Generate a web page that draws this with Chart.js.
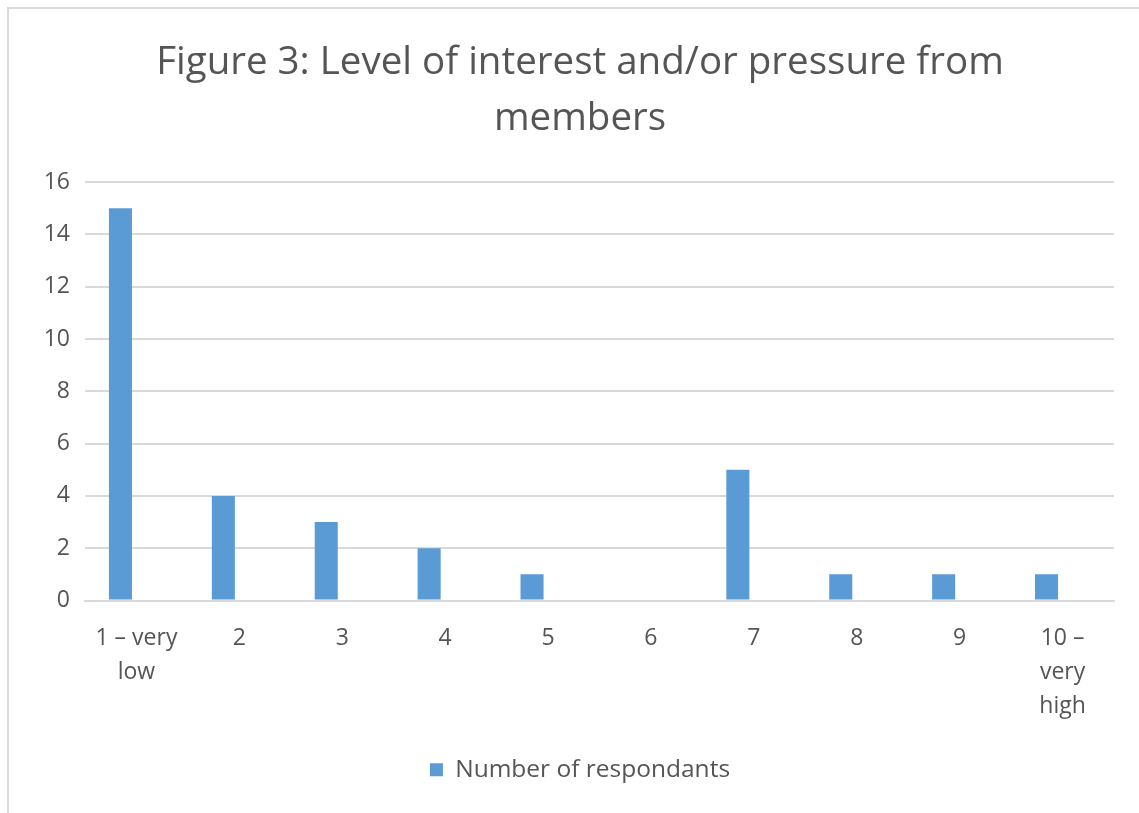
<!DOCTYPE html>
<html>
<head>
<meta charset="utf-8">
<script src="https://cdn.jsdelivr.net/npm/chart.js@4/dist/chart.umd.min.js"></script>
<style>
  body { margin: 0; background: #ffffff; }
  #wrap { position: relative; width: 1139px; height: 813px; overflow: hidden; }
  #frame { position: absolute; left: 7px; top: 7px; width: 1200px; height: 900px;
    border-left: 2px solid #d9d9d9; border-top: 2px solid #d9d9d9; }
  #chart { position: absolute; left: 0; top: 0; }
</style>
</head>
<body>
<div id="wrap">
  <div id="frame"></div>
  <canvas id="chart" width="1139" height="813"></canvas>
</div>
<script>
// categories (multi-line labels) and values
const categories = [["1 – very", "low"], "2", "3", "4", "5", "6", "7", "8", "9", ["10 –", "very", "high"]];
const respondents = [15, 4, 3, 2, 1, 0, 5, 1, 1, 1];
// Excel left an empty second series, that's why bars sit left of the label
const emptySeries = [null, null, null, null, null, null, null, null, null, null];
const yTicks = [0, 2, 4, 6, 8, 10, 12, 14, 16];

const textColor = "#555555";
const fontFamily = "'Open Sans', Lato, sans-serif";

var ctx = document.getElementById("chart").getContext("2d");
var myChart = new Chart(ctx, {
  type: "bar",
  data: {
    labels: categories,
    datasets: [
      {
        label: "Number of respondants",
        data: respondents,
        backgroundColor: "#5B9BD5",
        borderWidth: 0,
        categoryPercentage: 0.622,
        barPercentage: 0.72,
      },
      {
        label: "",
        data: emptySeries,
        backgroundColor: "#ED7D31",
        categoryPercentage: 0.622,
        barPercentage: 0.72,
      },
    ],
  },
  options: {
    responsive: false,
    animation: false,
    // left padding pushes title/legend centre to ~580 like the original
    layout: { padding: { left: 46, right: 25, top: 0, bottom: 21 } },
    plugins: {
      tooltip: { enabled: false },
      title: {
        display: true,
        text: ["Figure 3: Level of interest and/or pressure from", "members"],
        color: textColor,
        font: { family: fontFamily, size: 38.5, weight: "normal", lineHeight: 1.43 },
        padding: { top: 36, bottom: 36 },
      },
      legend: {
        position: "bottom",
        labels: {
          color: textColor,
          font: { family: fontFamily, size: 24.5 },
          boxWidth: 13,
          boxHeight: 13,
          padding: 10,
          filter: (item) => item.datasetIndex === 0,
        },
      },
    },
    scales: {
      x: {
        grid: { display: false, drawTicks: false },
        border: { color: "#d9d9d9", width: 2 },
        ticks: {
          color: textColor,
          font: { family: fontFamily, size: 23, lineHeight: 1.48 },
          padding: 21,
          maxRotation: 0,
          autoSkip: false,
        },
        afterFit: (scale) => { scale.height = 147; },
      },
      y: {
        min: 0,
        max: 16,
        afterBuildTicks: (scale) => { scale.ticks = yTicks.map((v) => ({ value: v })); },
        grid: { color: "#d9d9d9", lineWidth: 2, drawTicks: false },
        border: { display: false },
        ticks: {
          color: textColor,
          font: { family: fontFamily, size: 23 },
          padding: 15,
        },
        afterFit: (scale) => { scale.width = 39; },
      },
    },
  },
});
</script>
</body>
</html>
